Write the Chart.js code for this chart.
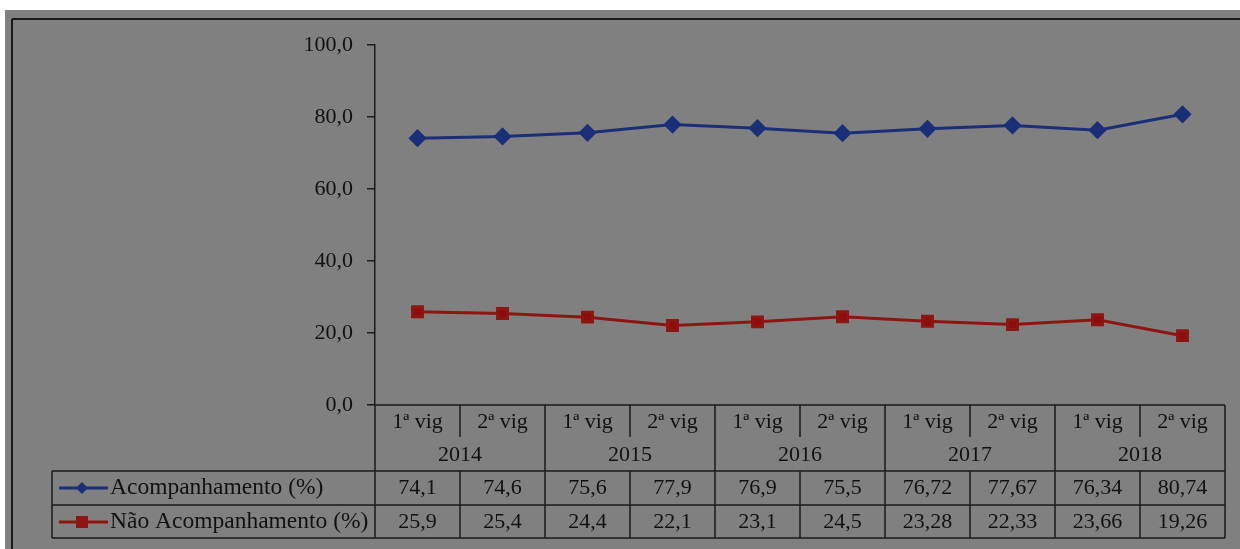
<!DOCTYPE html>
<html>
<head>
<meta charset="utf-8">
<script src="https://cdn.jsdelivr.net/npm/chart.js@4.4.1/dist/chart.umd.min.js"></script>
<style>
  html, body { margin: 0; padding: 0; background: #fff; }
  canvas { display: block; }
</style>
</head>
<body>
<canvas id="chart" width="1240" height="549"></canvas>
<script>
// data
const periods = ["1ª vig", "2ª vig", "1ª vig", "2ª vig", "1ª vig", "2ª vig", "1ª vig", "2ª vig", "1ª vig", "2ª vig"];
const years = ["2014", "2015", "2016", "2017", "2018"];
const acompanhamento = [74.1, 74.6, 75.6, 77.9, 76.9, 75.5, 76.72, 77.67, 76.34, 80.74];
const naoAcompanhamento = [25.9, 25.4, 24.4, 22.1, 23.1, 24.5, 23.28, 22.33, 23.66, 19.26];
const yTicks = [0, 20, 40, 60, 80, 100];

const seriesNames = ["Acompanhamento (%)", "Não Acompanhamento (%)"];
const BLUE = "#1b2f78";
const RED = "#8c1612";
const INK = "#111111";
const SERIF = "'Liberation Serif', 'Times New Roman', serif";
const FONT = "22px " + SERIF;

const fmt = (v) => String(v).replace(".", ",");

// grey frame behind everything
const framePlugin = {
    id: "frame",
    beforeDraw(chart) {
        const ctx = chart.ctx;
        ctx.save();
        ctx.fillStyle = "#ffffff";
        ctx.fillRect(0, 0, chart.width, chart.height);
        ctx.fillStyle = "#808080";
        ctx.fillRect(5, 10, chart.width - 5, chart.height - 10);
        ctx.strokeStyle = "#1a1a1a";
        ctx.lineWidth = 2;
        ctx.beginPath();
        ctx.moveTo(12, 19);
        ctx.lineTo(chart.width, 19);
        ctx.moveTo(12, 19);
        ctx.lineTo(12, chart.height);
        ctx.stroke();
        ctx.restore();
    }
};

// Excel-style data table under the plot
const tablePlugin = {
    id: "dataTable",
    afterDraw(chart) {
        const ctx = chart.ctx;
        const xs = chart.scales.x;
        const area = chart.chartArea;
        const step = xs.getPixelForValue(1) - xs.getPixelForValue(0);
        const top = area.bottom;
        const yearBottom = 471, row1Bottom = 505, row2Bottom = 538;
        const innerCut = 437;
        const legendLeft = 52;

        ctx.save();
        ctx.strokeStyle = "#1a1a1a";
        ctx.lineWidth = 1.5;
        ctx.beginPath();
        // horizontals
        ctx.moveTo(area.left, top); ctx.lineTo(area.right, top);
        [yearBottom, row1Bottom, row2Bottom].forEach((y) => {
            ctx.moveTo(legendLeft, y); ctx.lineTo(area.right, y);
        });
        // verticals
        ctx.moveTo(legendLeft, yearBottom); ctx.lineTo(legendLeft, row2Bottom);
        ctx.moveTo(area.left, top); ctx.lineTo(area.left, row2Bottom);
        for (let i = 0; i < periods.length; i++) {
            const xr = xs.getPixelForValue(i) + step / 2;
            if (i % 2 === 1) {
                ctx.moveTo(xr, top); ctx.lineTo(xr, row2Bottom);
            } else {
                ctx.moveTo(xr, top); ctx.lineTo(xr, innerCut);
                ctx.moveTo(xr, yearBottom); ctx.lineTo(xr, row2Bottom);
            }
        }
        ctx.stroke();

        ctx.fillStyle = INK;
        ctx.font = FONT;
        ctx.textAlign = "center";
        ctx.textBaseline = "middle";
        periods.forEach((p, i) => {
            const x = xs.getPixelForValue(i);
            ctx.fillText(p, x, 422);
            ctx.fillText(fmt(acompanhamento[i]), x, 488);
            ctx.fillText(fmt(naoAcompanhamento[i]), x, 522);
        });
        years.forEach((yr, k) => {
            const x = (xs.getPixelForValue(2 * k) + xs.getPixelForValue(2 * k + 1)) / 2;
            ctx.fillText(yr, x, 455);
        });

        // legend keys in the first column
        const keys = [
            { y: 488, color: BLUE, style: "diamond" },
            { y: 522, color: RED, style: "square" }
        ];
        keys.forEach((k, i) => {
            ctx.strokeStyle = k.color;
            ctx.lineWidth = 3;
            ctx.beginPath();
            ctx.moveTo(59, k.y); ctx.lineTo(108, k.y);
            ctx.stroke();
            ctx.fillStyle = k.color;
            ctx.beginPath();
            if (k.style === "diamond") {
                ctx.moveTo(82, k.y - 6); ctx.lineTo(88, k.y);
                ctx.lineTo(82, k.y + 6); ctx.lineTo(76, k.y);
                ctx.closePath();
                ctx.fill();
            } else {
                ctx.fillRect(76, k.y - 6, 12, 12);
            }
            ctx.fillStyle = INK;
            ctx.font = "23.5px " + SERIF;
            ctx.textAlign = "left";
            ctx.fillText(seriesNames[i], 110, k.y);
        });
        ctx.restore();
    }
};

new Chart(document.getElementById("chart"), {
    type: "line",
    data: {
        labels: periods,
        datasets: [
            {
                label: seriesNames[0],
                data: acompanhamento,
                borderColor: BLUE,
                backgroundColor: BLUE,
                borderWidth: 3,
                pointStyle: "rectRot",
                pointRadius: 7,
                tension: 0
            },
            {
                label: seriesNames[1],
                data: naoAcompanhamento,
                borderColor: RED,
                backgroundColor: "#8e0c0c",
                borderWidth: 3,
                pointStyle: "rect",
                pointRadius: 7,
                tension: 0
            }
        ]
    },
    options: {
        responsive: false,
        animation: false,
        layout: { padding: { left: 0, right: 15, top: 45, bottom: 144 } },
        plugins: {
            legend: { display: false },
            tooltip: { enabled: false }
        },
        scales: {
            x: {
                display: false,
                offset: true
            },
            y: {
                min: 0,
                max: 100,
                afterBuildTicks: (axis) => {
                    axis.ticks = yTicks.map((v) => ({ value: v }));
                },
                afterFit: (axis) => { axis.width = 375; },
                border: { display: true, color: "#1a1a1a", width: 1.5 },
                grid: {
                    drawOnChartArea: false,
                    drawTicks: true,
                    tickLength: 8,
                    color: "#1a1a1a",
                    lineWidth: 1.5
                },
                ticks: {
                    padding: 14,
                    color: INK,
                    font: { family: SERIF, size: 22 },
                    callback: (v) => v.toFixed(1).replace(".", ",")
                }
            }
        }
    },
    plugins: [framePlugin, tablePlugin]
});
</script>
</body>
</html>
